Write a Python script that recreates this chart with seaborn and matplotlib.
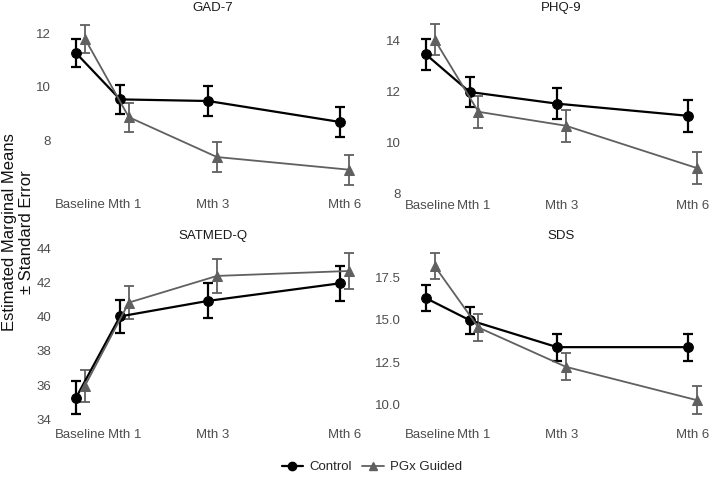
import matplotlib
matplotlib.use("Agg")
import matplotlib.pyplot as plt
import seaborn as sns
import pandas as pd
import numpy as np
from matplotlib.lines import Line2D

sns.set_theme(style="white")
plt.rcParams["font.family"] = ["Liberation Sans", "DejaVu Sans"]

# ---- data ----
timepoints = [0, 1, 3, 6]
time_labels = ["Baseline", "Mth 1", "Mth 3", "Mth 6"]
groups = ["Control", "PGx Guided"]
panels = ["GAD-7", "PHQ-9", "SATMED-Q", "SDS"]

gad_control = [11.26, 9.54, 9.48, 8.70]
gad_control_se = [0.53, 0.53, 0.55, 0.55]
gad_pgx = [11.80, 8.88, 7.40, 6.93]
gad_pgx_se = [0.52, 0.54, 0.55, 0.55]

phq_control = [13.47, 11.99, 11.53, 11.05]
phq_control_se = [0.60, 0.61, 0.62, 0.63]
phq_pgx = [14.05, 11.21, 10.66, 8.99]
phq_pgx_se = [0.60, 0.62, 0.63, 0.63]

sat_control = [35.26, 40.02, 40.93, 41.96]
sat_control_se = [0.95, 0.97, 1.02, 1.02]
sat_pgx = [35.95, 40.83, 42.39, 42.68]
sat_pgx_se = [0.93, 0.95, 1.00, 1.05]

sds_control = [16.27, 14.97, 13.38, 13.38]
sds_control_se = [0.75, 0.79, 0.80, 0.80]
sds_pgx = [18.16, 14.54, 12.22, 10.25]
sds_pgx_se = [0.77, 0.78, 0.80, 0.81]

gad_yticks = [8, 10, 12]
phq_yticks = [8, 10, 12, 14]
sat_yticks = [34, 36, 38, 40, 42, 44]
sds_yticks = [10.0, 12.5, 15.0, 17.5]

panel_data = {
    "GAD-7": (gad_control, gad_control_se, gad_pgx, gad_pgx_se, gad_yticks, "{:.0f}"),
    "PHQ-9": (phq_control, phq_control_se, phq_pgx, phq_pgx_se, phq_yticks, "{:.0f}"),
    "SATMED-Q": (sat_control, sat_control_se, sat_pgx, sat_pgx_se, sat_yticks, "{:.0f}"),
    "SDS": (sds_control, sds_control_se, sds_pgx, sds_pgx_se, sds_yticks, "{:.1f}"),
}

# ---- styles ----
colors = {"Control": "#000000", "PGx Guided": "#606060"}
markers = {"Control": "o", "PGx Guided": "^"}
lw = {"Control": 1.6, "PGx Guided": 1.3}
dodge = {"Control": -0.1, "PGx Guided": 0.1}

W, H = 709, 484
fig = plt.figure(figsize=(W / 100, H / 100), dpi=100)

def box(x0, x1, y0, y1):
    return [x0 / W, 1 - y1 / H, (x1 - x0) / W, (y1 - y0) / H]

positions = {
    "GAD-7": box(65, 360, 16.5, 192.5),
    "PHQ-9": box(415, 708, 16.5, 193.5),
    "SATMED-Q": box(65, 360, 245, 422),
    "SDS": box(415, 708, 245, 422),
}

tick_color = "#4d4d4d"
for name in panels:
    c, cse, p, pse, yt, fmt = panel_data[name]
    ax = fig.add_axes(positions[name])
    rows = []
    for g, vals, ses in [("Control", c, cse), ("PGx Guided", p, pse)]:
        for t, v, s in zip(timepoints, vals, ses):
            rows.append({"x": t + dodge[g], "y": v, "se": s, "group": g})
    df = pd.DataFrame(rows)
    for g in groups:
        d = df[df.group == g]
        ax.errorbar(d.x, d.y, yerr=d.se, fmt="none", ecolor=colors[g],
                    elinewidth=lw[g], capsize=3.5, capthick=lw[g], zorder=2)
        sns.lineplot(data=d, x="x", y="y", ax=ax, color=colors[g],
                     marker=markers[g], markersize=7, linewidth=lw[g],
                     markeredgecolor=colors[g], estimator=None, sort=False,
                     errorbar=None, legend=False, zorder=3)
    ax.set_xlim(-0.35, 6.35)
    ax.margins(y=0.05)
    ax.set_xticks(timepoints)
    ax.set_xticklabels(time_labels)
    ax.autoscale(axis="y")
    lo, hi = ax.get_ylim()
    if name == "PHQ-9":
        lo = min(lo, min(yt) - 0.01)
    ax.set_ylim(lo, hi)
    ax.set_yticks(yt)
    ax.set_yticklabels([fmt.format(v) for v in yt])
    ax.set_xlabel("")
    ax.set_ylabel("")
    for sp in ax.spines.values():
        sp.set_visible(False)
    ax.tick_params(axis="both", length=0, labelsize=9.5, labelcolor=tick_color)
    ax.tick_params(axis="y", pad=10)
    ax.tick_params(axis="x", pad=5)
    ax.set_title(name, fontsize=9.5, color="#1a1a1a", pad=4)
    ax.grid(False)

fig.text(18 / W, 1 - 232 / H, "Estimated Marginal Means\n\u00b1 Standard Error",
         rotation=90, ha="center", va="center", fontsize=12, color="#111111",
         linespacing=1.1)

handles = [Line2D([0], [0], color=colors[g], marker=markers[g], markersize=6,
                  linewidth=lw[g]) for g in groups]
fig.legend(handles, groups, loc="center", bbox_to_anchor=(372 / W, 1 - 467 / H),
           ncol=2, frameon=False, fontsize=9.5, handlelength=1.6,
           handletextpad=0.5, columnspacing=0.8)

fig.savefig("out.png", dpi=100)
